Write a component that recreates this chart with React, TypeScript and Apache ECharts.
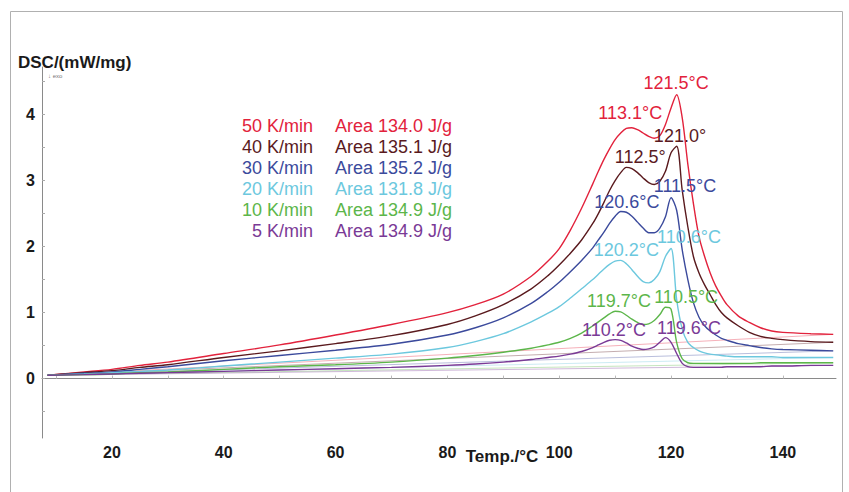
import React, { useEffect, useRef } from "react";
import * as echarts from "echarts";

// Temperature grid (°C) shared by all curves
const temps = [8.5, 15, 20, 25, 30, 40, 50, 60, 70, 80, 85, 90, 95, 98, 100, 102, 104, 106, 107, 108, 109, 110, 111, 112, 113, 114, 115, 116, 117, 118, 119, 120, 121, 122, 123, 124, 125, 126, 127, 128, 129, 130, 132, 134, 136, 138, 140, 145, 149];

// DSC signal (mW/mg) per heating rate
const dsc50 = [0.05, 0.1, 0.14, 0.2, 0.25, 0.38, 0.51, 0.66, 0.82, 1.0, 1.12, 1.28, 1.55, 1.78, 1.97, 2.25, 2.58, 2.95, 3.14, 3.32, 3.48, 3.62, 3.72, 3.79, 3.8, 3.77, 3.72, 3.67, 3.64, 3.68, 3.85, 4.1, 4.3, 3.95, 3.25, 2.65, 2.15, 1.85, 1.6, 1.4, 1.25, 1.12, 0.95, 0.85, 0.77, 0.72, 0.7, 0.68, 0.67];
const dsc40 = [0.05, 0.09, 0.12, 0.17, 0.21, 0.32, 0.42, 0.53, 0.65, 0.82, 0.95, 1.12, 1.36, 1.56, 1.72, 1.9, 2.1, 2.35, 2.5, 2.67, 2.85, 3.0, 3.12, 3.2, 3.18, 3.12, 3.04, 2.97, 2.94, 2.99, 3.14, 3.42, 3.52, 2.85, 2.3, 1.85, 1.6, 1.42, 1.27, 1.12, 1.0, 0.92, 0.8, 0.7, 0.64, 0.61, 0.59, 0.56, 0.55];
const dsc30 = [0.05, 0.08, 0.1, 0.14, 0.18, 0.27, 0.35, 0.43, 0.52, 0.66, 0.77, 0.92, 1.14, 1.32, 1.46, 1.62, 1.79, 1.98, 2.1, 2.22, 2.35, 2.46, 2.53, 2.52, 2.46, 2.37, 2.28, 2.21, 2.21, 2.28, 2.45, 2.74, 2.55, 1.95, 1.5, 1.15, 0.93, 0.8, 0.72, 0.66, 0.61, 0.58, 0.53, 0.5, 0.47, 0.45, 0.44, 0.43, 0.42];
const dsc20 = [0.05, 0.07, 0.09, 0.11, 0.13, 0.19, 0.25, 0.31, 0.37, 0.47, 0.56, 0.68, 0.86, 0.99, 1.09, 1.22, 1.36, 1.5, 1.58, 1.66, 1.73, 1.78, 1.79, 1.74, 1.65, 1.55, 1.47, 1.45, 1.5, 1.62, 1.85, 1.97, 1.2, 0.75, 0.55, 0.47, 0.42, 0.39, 0.37, 0.36, 0.35, 0.34, 0.33, 0.33, 0.33, 0.33, 0.32, 0.32, 0.32];
const dsc10 = [0.05, 0.06, 0.07, 0.09, 0.1, 0.14, 0.18, 0.21, 0.25, 0.31, 0.35, 0.4, 0.46, 0.51, 0.55, 0.61, 0.69, 0.8, 0.86, 0.92, 0.98, 1.02, 1.01, 0.96, 0.9, 0.85, 0.82, 0.83, 0.88, 0.97, 1.08, 1.05, 0.55, 0.3, 0.24, 0.23, 0.23, 0.23, 0.23, 0.23, 0.23, 0.23, 0.23, 0.23, 0.24, 0.24, 0.24, 0.24, 0.24];
const dsc5 = [0.05, 0.06, 0.07, 0.08, 0.09, 0.11, 0.13, 0.15, 0.17, 0.2, 0.22, 0.25, 0.29, 0.32, 0.34, 0.37, 0.41, 0.47, 0.51, 0.55, 0.58, 0.59, 0.58, 0.54, 0.49, 0.46, 0.44, 0.45, 0.48, 0.55, 0.62, 0.55, 0.38, 0.23, 0.18, 0.17, 0.17, 0.17, 0.17, 0.17, 0.17, 0.18, 0.18, 0.18, 0.18, 0.19, 0.19, 0.2, 0.2];

const rateLabels = ["50 K/min", "40 K/min", "30 K/min", "20 K/min", "10 K/min", "5 K/min"];
const areaLabels = ["Area 134.0 J/g", "Area 135.1 J/g", "Area 135.2 J/g", "Area 131.8 J/g", "Area 134.9 J/g", "Area 134.9 J/g"];
const seriesColors = ["#e2223c", "#5a1a1e", "#3b4a9c", "#6cc8de", "#5cb64a", "#7a3a96"];

// Integration baselines (straight lines from start to end of each run)
const baselineT = [8.5, 149];
const baselineStart = [0.05, 0.05, 0.05, 0.05, 0.05, 0.05];
const baselineEnd = [0.67, 0.55, 0.42, 0.32, 0.24, 0.2];

// Peak annotations
const peakTexts = ["121.5°C", "113.1°C", "121.0°", "112.5°", "111.5°C", "120.6°C", "110.6°C", "120.2°C", "119.7°C", "110.5°C", "110.2°C", "119.6°C"];
const peakTextT = [120.9, 112.7, 121.6, 114.5, 122.5, 112.1, 123.2, 112.0, 110.7, 122.7, 109.8, 123.2];
const peakTextV = [4.48, 4.02, 3.68, 3.35, 2.91, 2.67, 2.15, 1.95, 1.17, 1.24, 0.74, 0.77];
const peakTextSeries = [0, 0, 1, 1, 2, 2, 3, 3, 4, 4, 5, 5];

const xTickValues = [20, 40, 60, 80, 100, 120, 140];
const xMinorTicks = [10, 20, 30, 40, 50, 60, 70, 80, 90, 100, 110, 120, 130, 140];
const yTickValues = [0, 1, 2, 3, 4];
const yMinorTicks = [-0.5, 0, 0.5, 1, 1.5, 2, 2.5, 3, 3.5, 4, 4.5];

const FONT = "'Liberation Sans', Arial, Helvetica, sans-serif";

export default function App() {
  const ref = useRef<HTMLDivElement>(null);

  useEffect(() => {
    if (!ref.current) return;
    const chart = echarts.init(ref.current, null, { renderer: "svg" });
    const curves = [dsc50, dsc40, dsc30, dsc20, dsc10, dsc5];

    const lineSeries: any[] = curves.map((vals, i) => ({
      type: "line",
      name: rateLabels[i],
      data: temps.map((t, j) => [t, vals[j]]),
      showSymbol: false,
      smooth: 0.3,
      lineStyle: { color: seriesColors[i], width: 1.4 },
      z: 3,
      silent: true,
    }));

    const baseSeries: any[] = baselineStart.map((s, i) => ({
      type: "line",
      name: "base" + i,
      data: [
        [baselineT[0], s],
        [baselineT[1], baselineEnd[i]],
      ],
      showSymbol: false,
      lineStyle: { color: seriesColors[i], width: 0.8, opacity: 0.45 },
      z: 2,
      silent: true,
    }));

    const labelSeries = {
      type: "scatter",
      symbolSize: 0,
      silent: true,
      z: 5,
      itemStyle: { color: "rgba(0,0,0,0)", opacity: 1 },
      label: {
        show: true,
        position: "inside",
        formatter: "{b}",
        fontSize: 18,
        fontFamily: FONT,
        opacity: 1,
        textBorderWidth: 0,
      },
      data: peakTexts.map((txt, i) => ({
        name: txt,
        value: [peakTextT[i], peakTextV[i]],
        label: { color: seriesColors[peakTextSeries[i]] },
      })),
    };

    const graphics: any[] = [
      {
        type: "rect",
        shape: { x: 10.5, y: 11.5, width: 832, height: 490 },
        style: { fill: "none", stroke: "#b0b0b0", lineWidth: 1 },
        silent: true,
      },
      {
        type: "text",
        x: 18,
        y: 62,
        style: {
          text: "DSC/(mW/mg)",
          font: `bold 17px ${FONT}`,
          fill: "#1a1a1a",
          verticalAlign: "middle",
          align: "left",
        },
      },
      {
        type: "text",
        x: 48,
        y: 76,
        style: {
          text: "↓ exo",
          font: `6px ${FONT}`,
          fill: "#777",
          verticalAlign: "middle",
          align: "left",
        },
      },
      {
        type: "text",
        x: 502,
        y: 456,
        style: {
          text: "Temp./°C",
          font: `bold 17px ${FONT}`,
          fill: "#1a1a1a",
          verticalAlign: "middle",
          align: "center",
        },
      },
    ];
    rateLabels.forEach((r, i) => {
      graphics.push({
        type: "text",
        x: 313,
        y: 126 + 21 * i,
        style: {
          text: r,
          font: `18px ${FONT}`,
          fill: seriesColors[i],
          align: "right",
          verticalAlign: "middle",
        },
      });
      graphics.push({
        type: "text",
        x: 335,
        y: 126 + 21 * i,
        style: {
          text: areaLabels[i],
          font: `18px ${FONT}`,
          fill: seriesColors[i],
          align: "left",
          verticalAlign: "middle",
        },
      });
    });

    chart.setOption({
      animation: false,
      backgroundColor: "#ffffff",
      grid: { left: 42, top: 67, right: 13, bottom: 54, containLabel: false },
      xAxis: {
        type: "value",
        min: 7.5,
        max: 149.5,
        axisLine: { show: true, lineStyle: { color: "#8a8a8a", width: 1 } },
        axisTick: {
          show: true,
          inside: true,
          length: 3,
          customValues: xMinorTicks,
          lineStyle: { color: "#bbb" },
        },
        axisLabel: {
          customValues: xTickValues,
          color: "#1a1a1a",
          fontWeight: "bold",
          fontSize: 16,
          fontFamily: FONT,
          margin: 6,
        },
        splitLine: { show: false },
      },
      yAxis: {
        type: "value",
        min: -0.9,
        max: 4.72,
        axisLine: { show: true, lineStyle: { color: "#8a8a8a", width: 1 } },
        axisTick: {
          show: true,
          inside: true,
          length: 3,
          customValues: yMinorTicks,
          lineStyle: { color: "#aaa" },
        },
        axisLabel: {
          customValues: yTickValues,
          color: "#1a1a1a",
          fontWeight: "bold",
          fontSize: 16,
          fontFamily: FONT,
          margin: 7,
        },
        splitLine: { show: false },
      },
      graphic: graphics,
      series: [...baseSeries, ...lineSeries, labelSeries],
    });

    return () => chart.dispose();
  }, []);

  return (
    <div
      ref={ref}
      style={{ position: "absolute", left: 0, top: 0, width: 849, height: 492 }}
    />
  );
}
